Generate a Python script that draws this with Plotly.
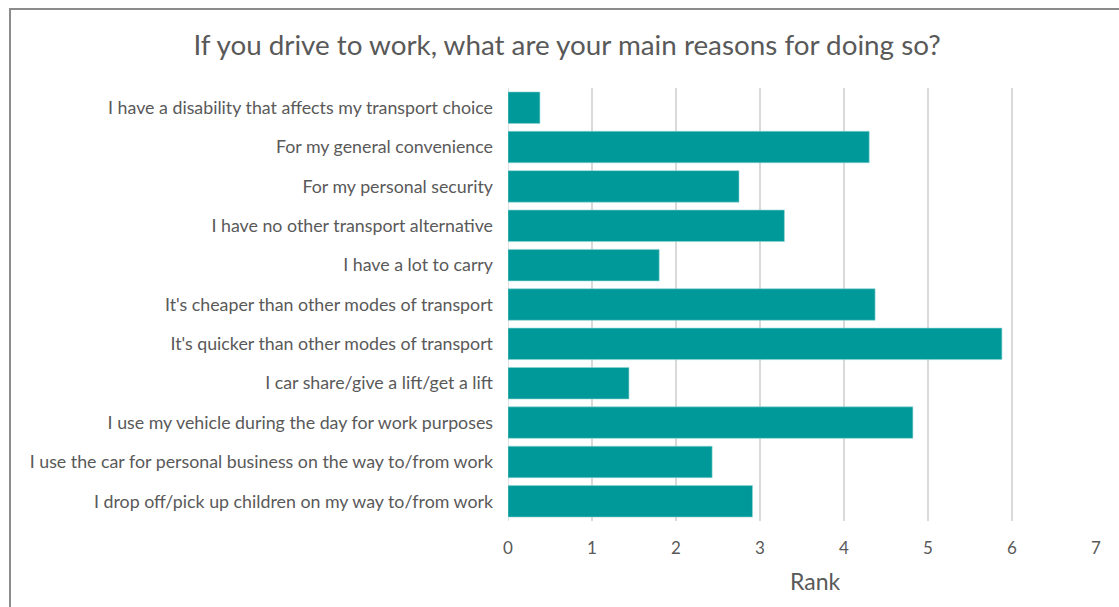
import plotly.graph_objects as go

# Survey reasons, listed top to bottom as shown on the chart
reasons = [
    "I have a disability that affects my transport choice",
    "For my general convenience",
    "For my personal security",
    "I have no other transport alternative",
    "I have a lot to carry",
    "It's cheaper than other modes of transport",
    "It's quicker than other modes of transport",
    "I car share/give a lift/get a lift",
    "I use my vehicle during the day for work purposes",
    "I use the car for personal business on the way to/from work",
    "I drop off/pick up children on my way to/from work",
]
rank = [0.38, 4.30, 2.75, 3.29, 1.80, 4.37, 5.88, 1.44, 4.82, 2.43, 2.91]

teal = "#009999"
text_grey = "#595959"
font_family = "Lato, 'Open Sans', sans-serif"

fig = go.Figure(
    go.Bar(
        x=rank,
        y=reasons,
        orientation="h",
        marker=dict(color=teal, line=dict(color="#8fd3d3", width=0.6)),
        width=0.8,
    )
)

W, H = 1119, 607
L, R, T, B = 508, 23, 88, 86
pw, ph = W - L - R, H - T - B


def px_to_paper_x(px):
    return (px - L) / pw


def px_to_paper_y(py):
    return (H - B - py) / ph


fig.update_layout(
    width=W,
    height=H,
    margin=dict(l=L, r=R, t=T, b=B),
    paper_bgcolor="white",
    plot_bgcolor="white",
    showlegend=False,
    font=dict(family=font_family, color=text_grey),
    title=dict(
        text="If you drive to work, what are your main reasons for doing so?",
        x=567 / W,
        xref="container",
        xanchor="center",
        y=1 - 45 / H,
        yref="container",
        yanchor="middle",
        font=dict(size=27.8, color=text_grey, family=font_family),
    ),
    xaxis=dict(
        range=[0, 7],
        dtick=1,
        showgrid=True,
        gridcolor="#d9d9d9",
        gridwidth=1.5,
        zeroline=False,
        showline=False,
        tickfont=dict(size=17, color=text_grey),
        ticklabelstandoff=15,
    ),
    yaxis=dict(
        autorange="reversed",
        showgrid=False,
        showline=False,
        tickfont=dict(size=17.8, color=text_grey),
        ticklabelstandoff=14,
    ),
    annotations=[
        dict(
            text="Rank",
            xref="paper",
            yref="paper",
            x=px_to_paper_x(815),
            y=px_to_paper_y(581),
            xanchor="center",
            yanchor="middle",
            showarrow=False,
            font=dict(size=23, color=text_grey, family=font_family),
        )
    ],
    shapes=[
        # chart frame
        dict(
            type="rect",
            xref="paper",
            yref="paper",
            x0=px_to_paper_x(10),
            x1=px_to_paper_x(1130),
            y0=px_to_paper_y(620),
            y1=px_to_paper_y(9),
            line=dict(color="#8c8c8c", width=2),
            fillcolor="rgba(0,0,0,0)",
            layer="below",
        ),
        # vertical axis line at zero
        dict(
            type="line",
            xref="x",
            yref="paper",
            x0=0,
            x1=0,
            y0=0,
            y1=1,
            line=dict(color="#d9d9d9", width=1.5),
            layer="below",
        ),
    ],
)

fig.write_html("out.html")
